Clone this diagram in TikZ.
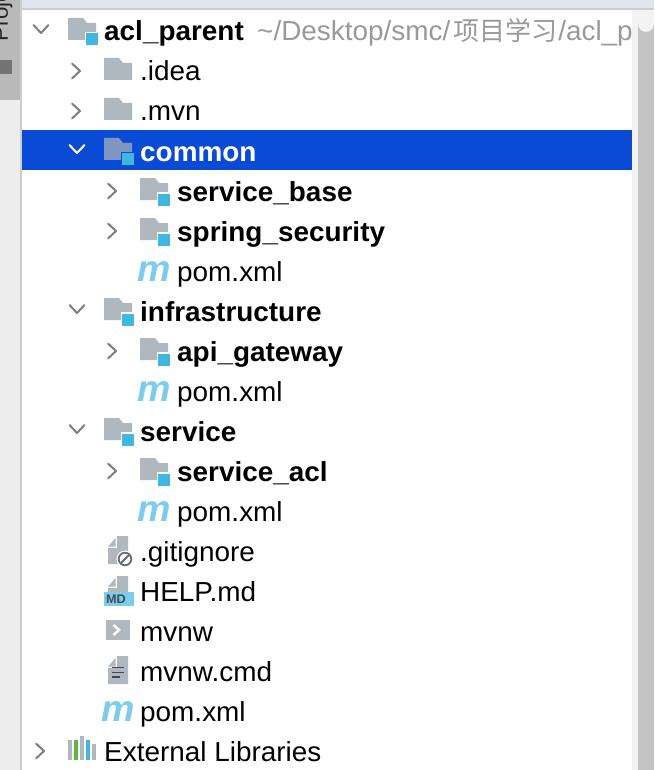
\documentclass[tikz,border=0pt]{standalone}
\usepackage{fontspec}
\setmainfont[FakeStretch=1.015]{Liberation Sans}
\newfontfamily\cjkfont[Scale=0.945]{Noto Sans CJK SC}
\definecolor{folderc}{HTML}{AFB8BF}
\definecolor{folderh}{HTML}{7E95BF}
\definecolor{modc}{HTML}{40B6E0}
\definecolor{mavenc}{HTML}{7CCDEC}
\definecolor{chev}{HTML}{7F7F7F}
\definecolor{selc}{HTML}{0A4BD6}
\definecolor{grayt}{HTML}{999999}
\definecolor{iconink}{HTML}{3F4A54}
\definecolor{topstrip}{HTML}{E1E4EC}
\definecolor{sidebar}{HTML}{B9B9B9}
\definecolor{sidelow}{HTML}{EDEDED}
\definecolor{sideline}{HTML}{CDCDCD}
\definecolor{scrolltrack}{HTML}{F3F3F3}
\definecolor{scrollthumb}{HTML}{C4C4C4}
\definecolor{barg}{HTML}{62B543}
\tikzset{
  x=1pt,y=-1pt,
  rowlabel/.style={anchor=base west,inner sep=0pt,yshift=-1pt,font=\fontsize{27.5}{30}\selectfont,text=black},
  boldlabel/.style={rowlabel,font=\fontsize{27.5}{30}\selectfont\bfseries},
  chevron/.style={draw=chev,line width=2pt,line cap=round,line join=round},
  pics/modfolder/.style={code={
    \fill[folderc] (0,-13)--(15,-13)--(19,-8)--(28,-8)--(28,9)--(0,9)--cycle;
    \fill[white] (16.7,1.2) rectangle (31,16);
    \fill[modc] (18,2.5) rectangle (30,14.5);
  }},
  pics/selfolder/.style={code={
    \fill[folderh] (0,-13)--(15,-13)--(19,-8)--(28,-8)--(28,9)--(0,9)--cycle;
    \fill[selc] (16.7,1.2) rectangle (31,16);
    \fill[modc] (18,2.5) rectangle (30,14.5);
  }},
  pics/plainfolder/.style={code={
    \fill[folderc] (0,-13)--(15,-13)--(19,-8)--(28,-8)--(28,9)--(0,9)--cycle;
  }},
  pics/chevr/.style={code={\draw[chevron] (-4,-7.5)--(4,0)--(-4,7.5);}},
  pics/chevd/.style={code={\draw[chevron,draw=#1] (-7.5,-4)--(0,4)--(7.5,-4);}},
  pics/mvnicon/.style={code={
    \node[anchor=base,inner sep=0pt,text=mavenc,font=\fontsize{37}{37}\selectfont\bfseries\itshape] at (0,10) {m};
  }},
  pics/docicon/.style={code={
    \fill[folderc] (-10,#1)--(-10,-3)--(-1,-3)--(-1,-15)--(10,-15)--(10,#1)--cycle;
    \fill[folderc] (-10,-4.5)--(-2.5,-13)--(-2.5,-4.5)--cycle;
  }}
}
\begin{document}
\begin{tikzpicture}
\useasboundingbox (0,0) rectangle (654,770);
\fill[white] (0,0) rectangle (654,770);
% window frame
\fill[sidelow] (0,100) rectangle (20,770);
\fill[sidebar] (0,0) rectangle (20,100);
\fill[sideline] (20,0) rectangle (22,770);
\fill[topstrip] (22,0) rectangle (654,8);
\fill[sideline] (22,8) rectangle (654,10);
\fill[scrolltrack] (632,10) rectangle (654,770);
\fill[scrollthumb] (638,770) -- (638,24) arc[start angle=180,end angle=0,radius=8] -- (654,770) -- cycle;
\node[rotate=90,anchor=base west,inner sep=0pt,font=\fontsize{22}{26}\selectfont,text=black!85] (sidetab) at (8,42) {Proje};
\fill[black!55] (0,60) rectangle (12,74);
% selection bar
\fill[selc] (22,130) rectangle (632,170);
% rows
\pic at (41,29) {chevd=chev};
\pic at (68,31) {modfolder};
\node[boldlabel] (r1) at (104,40) {acl\_parent};
\node[rowlabel,text=grayt] (r1b) at (257,40) {\textasciitilde/Desktop/smc/\kern3pt{\cjkfont 项目学习}\kern1pt/acl\_p};
\pic at (76,71) {chevr};
\pic at (104,71) {plainfolder};
\node[rowlabel] (r2) at (140,80) {.idea};
\pic at (76,111) {chevr};
\pic at (104,111) {plainfolder};
\node[rowlabel] (r3) at (140,120) {.mvn};
\pic at (77,149) {chevd=white};
\pic at (104,151) {selfolder};
\node[boldlabel,text=white] (r4) at (140,160) {common};
\pic at (112,191) {chevr};
\pic at (140,191) {modfolder};
\node[boldlabel] (r5) at (177,200) {service\_base};
\pic at (112,231) {chevr};
\pic at (140,231) {modfolder};
\node[boldlabel] (r6) at (177,240) {spring\_security};
\pic at (154,271) {mvnicon};
\node[rowlabel] (r7) at (177,280) {pom.xml};
\pic at (77,309) {chevd=chev};
\pic at (104,311) {modfolder};
\node[boldlabel] (r8) at (140,320) {infrastructure};
\pic at (112,351) {chevr};
\pic at (140,351) {modfolder};
\node[boldlabel] (r9) at (177,360) {api\_gateway};
\pic at (154,391) {mvnicon};
\node[rowlabel] (r10) at (177,400) {pom.xml};
\pic at (77,429) {chevd=chev};
\pic at (104,431) {modfolder};
\node[boldlabel] (r11) at (140,440) {service};
\pic at (112,471) {chevr};
\pic at (140,471) {modfolder};
\node[boldlabel] (r12) at (177,480) {service\_acl};
\pic at (154,511) {mvnicon};
\node[rowlabel] (r13) at (177,520) {pom.xml};
% .gitignore
\pic at (118,551) {docicon=13};
\fill[white] (125,559) circle[radius=8.5];
\draw[iconink!80,line width=1.8pt] (125,559) circle[radius=6.3];
\draw[iconink!80,line width=1.8pt] (121,563)--(129,555);
\node[rowlabel] (r14) at (140,560) {.gitignore};
% HELP.md
\pic at (118,591) {docicon=3};
\fill[mavenc] (104,592) rectangle (134,606);
\node[inner sep=0pt,font=\fontsize{12.5}{12}\selectfont\bfseries,text=iconink] (mdtag) at (116,599.5) {MD};
\node[rowlabel] (r15) at (140,600) {HELP.md};
% mvnw
\fill[folderc] (106,620) rectangle (130,640);
\draw[white,line width=2.4pt] (113.5,625)--(119,630)--(113.5,635);
\node[rowlabel] (r16) at (140,640) {mvnw};
% mvnw.cmd
\pic at (118,671) {docicon=13};
\draw[iconink,line width=1.5pt] (112,667.5)--(124,667.5) (112,672.5)--(124,672.5) (112,677)--(120,677);
\node[rowlabel] (r17) at (140,680) {mvnw.cmd};
% pom.xml
\pic at (118.5,711) {mvnicon};
\node[rowlabel] (r18) at (140,720) {pom.xml};
% External Libraries
\pic at (40,751) {chevr};
\fill[folderc] (68,740) rectangle (72,760);
\fill[barg] (74,740) rectangle (78,760);
\fill[folderc] (80,736) rectangle (84,760);
\fill[modc] (86,740) rectangle (90,760);
\fill[folderc] (92,744) rectangle (96,760);
\node[rowlabel] (r19) at (104,760) {External Libraries};
\end{tikzpicture}
\end{document}
